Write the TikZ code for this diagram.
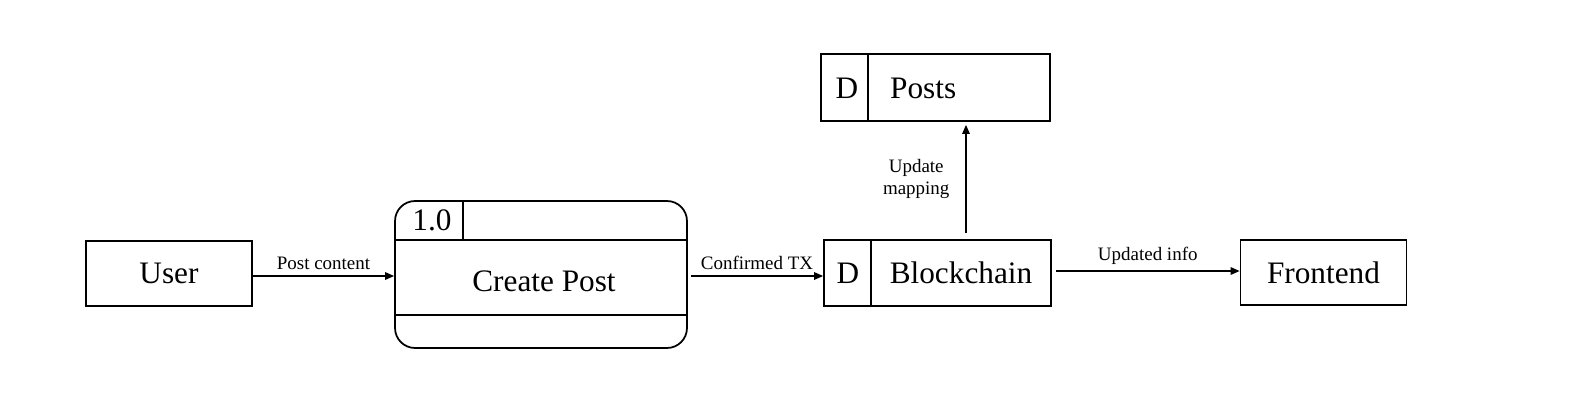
\documentclass[tikz,border=0pt]{standalone}
\usepackage{fontspec}
\setmainfont{Liberation Serif}
\usetikzlibrary{arrows.meta}

\begin{document}
\begin{tikzpicture}[x=0.02cm, y=-0.02cm,
        box/.style={draw, line width=1pt, inner sep=0pt},
        entity/.style={box, minimum width=3.32cm, minimum height=1.3cm, font=\fontsize{17.8}{21}\selectfont},
        big/.style={font=\fontsize{17.8}{21}\selectfont},
        flow/.style={-{Triangle[length=1.8mm,width=1.5mm]}, line width=0.8pt},
        lbl/.style={font=\fontsize{10.8}{12.8}\selectfont, align=center}]
    \useasboundingbox (0,0) rectangle (1586,410);
    % external entities
    \node[entity] (user) at (169,273.5) {User};
    \node[entity] (frontend) at (1323.5,272.5) {Frontend};
    % process 1.0
    \node[box, rounded corners=0.4cm, minimum width=5.84cm, minimum height=2.94cm] (proc) at (541,274.5) {};
    \draw[line width=1pt] (395,240) -- (687,240);
    \draw[line width=1pt] (395,315) -- (687,315);
    \draw[line width=1pt] (463,201) -- (463,240);
    \node[big] (procid) at (432,220) {1.0};
    \node[big] (procname) at (544,281) {Create Post};
    % data stores
    \node[box, minimum width=4.58cm, minimum height=1.34cm] (posts) at (935.5,87.5) {};
    \draw[line width=1pt] (868,54) -- (868,121);
    \node[big] (postsid) at (847,88) {D};
    \node[big, anchor=west] (postsname) at (884,88) {Posts};
    \node[box, minimum width=4.54cm, minimum height=1.32cm] (chain) at (937.5,273) {};
    \draw[line width=1pt] (871,240) -- (871,306);
    \node[big] (chainid) at (848,273) {D};
    \node[big] (chainname) at (961,273) {Blockchain};
    % flows
    \draw[flow] (user.east |- 0,276) -- (proc.west |- 0,276) node[lbl, midway, above] {Post content};
    \draw[flow] ([xshift=0.06cm]proc.east |- 0,276) -- (chain.west |- 0,276) node[lbl, midway, above] {Confirmed TX};
    \coordinate (upstart) at (966,233);
    \draw[flow] (upstart) -- ([yshift=-0.06cm]upstart |- posts.south) node[lbl, midway, left=0.2cm] {Update\\mapping};
    \draw[flow] ([xshift=0.08cm]chain.east |- 0,271) -- (frontend.west |- 0,271) node[lbl, midway, above] {Updated info};
\end{tikzpicture}
\end{document}
